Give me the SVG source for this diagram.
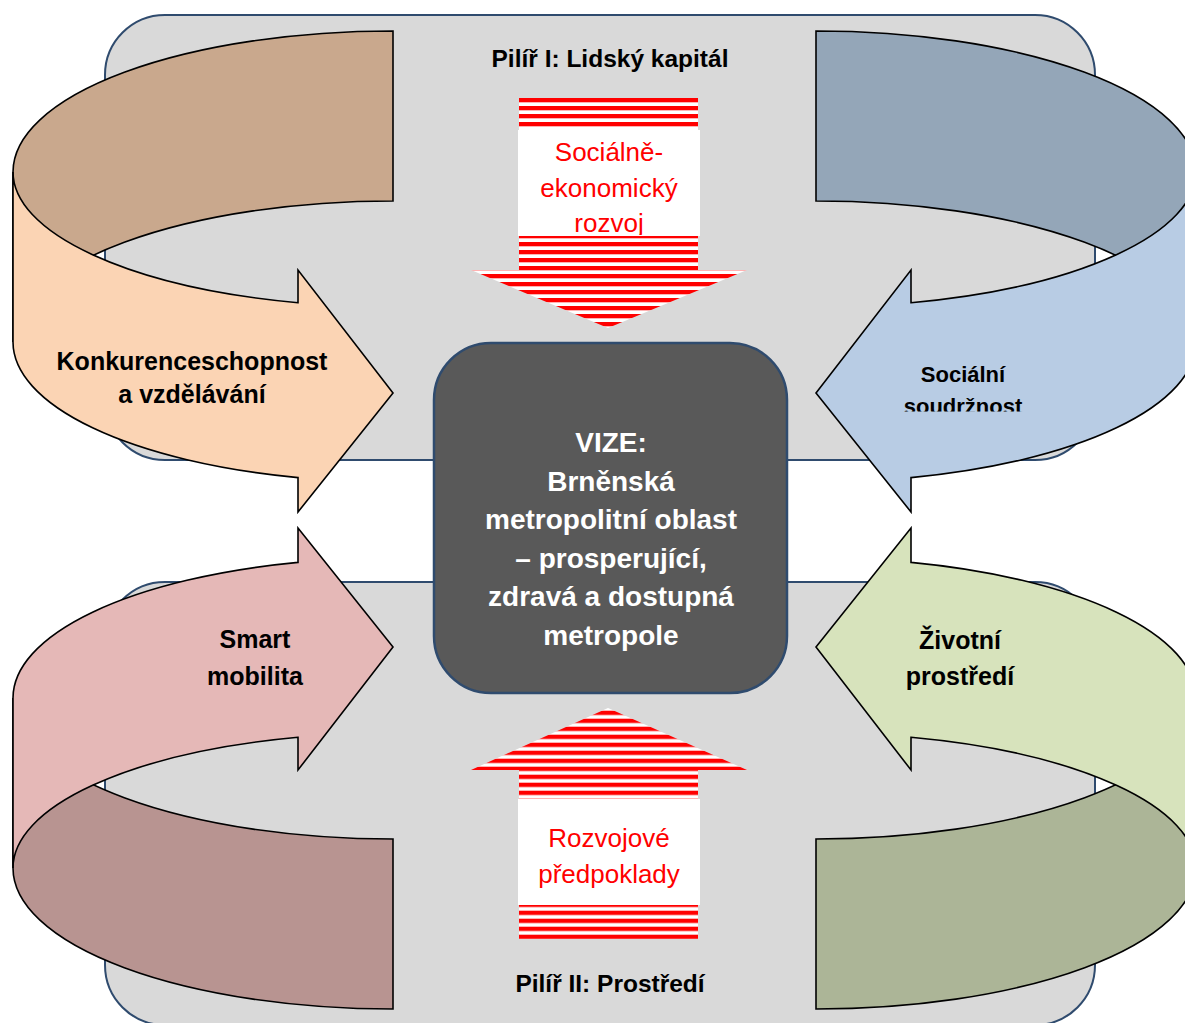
<svg xmlns="http://www.w3.org/2000/svg" width="1185" height="1023" viewBox="0 0 1185 1023">
<style>
.pillar{fill:#d9d9d9;stroke:#2f4b6e;stroke-width:2}
.vision{fill:#595959;stroke:#2f4b6e;stroke-width:2.5}
.band{stroke:#000;stroke-width:1.6;stroke-linejoin:miter}
.lbl{font-family:"Liberation Sans",Arial,sans-serif;font-weight:bold;fill:#000;text-anchor:middle}
.vis{font-family:"Liberation Sans",Arial,sans-serif;font-weight:bold;fill:#fff;text-anchor:middle;font-size:28px}
.red{font-family:"Liberation Sans",Arial,sans-serif;fill:#ff0000;text-anchor:middle;font-size:26px}
</style>
<defs>
<pattern id="stripesTop" patternUnits="userSpaceOnUse" x="0" y="98" width="20" height="8">
<rect x="0" y="0" width="20" height="8" fill="#fff"/>
<rect x="0" y="0" width="20" height="4.3" fill="#ff0000"/>
</pattern>
<pattern id="stripesBot" patternUnits="userSpaceOnUse" x="0" y="934.7" width="20" height="8">
<rect x="0" y="0" width="20" height="8" fill="#fff"/>
<rect x="0" y="0" width="20" height="4.3" fill="#ff0000"/>
</pattern>
<path id="backBand" d="M13,172 A380,141 0 0 1 393,31 L393,201 A380,141 0 0 0 13,342 Z"/>
<path id="frontBand" d="M13,172 A380,135 0 0 0 298,302.7 L298,270 L393,393 L298,512 L298,477.6 A380,140 0 0 1 13,342 Z"/>
<clipPath id="clipSoc"><rect x="870" y="340" width="190" height="71.5"/></clipPath>
<clipPath id="clipRozvoj"><rect x="518" y="130" width="182" height="105"/></clipPath>
</defs>
<rect width="1185" height="1023" fill="#fff"/>
<g id="pillar1"><rect class="pillar" x="105" y="15" width="990" height="445" rx="60" ry="60"/></g>
<g id="pillar2"><rect class="pillar" x="105" y="582" width="990" height="443" rx="60" ry="60"/></g>
<g id="arrow-konkurenceschopnost">
<use href="#backBand" class="band" fill="#c9a88d"/>
<use href="#frontBand" class="band" fill="#fbd4b4"/>
<text class="lbl" font-size="25" x="192" y="370">Konkurenceschopnost</text>
<text class="lbl" font-size="25" x="192" y="403">a vzdělávání</text>
</g>
<g id="arrow-socialni">
<g transform="matrix(-1,0,0,1,1209,0)">
<use href="#backBand" class="band" fill="#94a6b8"/>
<use href="#frontBand" class="band" fill="#b8cce4"/>
</g>
<g clip-path="url(#clipSoc)">
<text class="lbl" font-size="22" x="963" y="382">Sociální</text>
<text class="lbl" font-size="22" x="963" y="414">soudržnost</text>
</g>
</g>
<g id="arrow-mobilita">
<g transform="matrix(1,0,0,-1,0,1040)">
<use href="#backBand" class="band" fill="#b89491"/>
<use href="#frontBand" class="band" fill="#e5b8b7"/>
</g>
<text class="lbl" font-size="25" x="255" y="648">Smart</text>
<text class="lbl" font-size="25" x="255" y="685">mobilita</text>
</g>
<g id="arrow-prostredi">
<g transform="matrix(-1,0,0,-1,1209,1040)">
<use href="#backBand" class="band" fill="#acb597"/>
<use href="#frontBand" class="band" fill="#d7e3bc"/>
</g>
<text class="lbl" font-size="25" x="960" y="649">Životní</text>
<text class="lbl" font-size="25" x="960" y="685">prostředí</text>
</g>
<g id="titles">
<text class="lbl" font-size="24.5" x="610" y="67">Pilíř I: Lidský kapitál</text>
<text class="lbl" font-size="24.5" x="610" y="992">Pilíř II: Prostředí</text>
</g>
<g id="vision">
<rect class="vision" x="434" y="343" width="353" height="350" rx="57" ry="57"/>
<text class="vis" x="611" y="452">VIZE:</text>
<text class="vis" x="611" y="490.6">Brněnská</text>
<text class="vis" x="611" y="529.2">metropolitní oblast</text>
<text class="vis" x="611" y="567.8">– prosperující,</text>
<text class="vis" x="611" y="606.4">zdravá a dostupná</text>
<text class="vis" x="611" y="645">metropole</text>
</g>
<g id="connectors">
<g id="arrow-socioeconomic">
<path d="M519,98 L698,98 L698,270 L747,270 L608,328 L471,270 L519,270 Z" fill="url(#stripesTop)"/>
<rect x="518" y="130" width="182" height="106" fill="#fff"/>
<g clip-path="url(#clipRozvoj)">
<text class="red" x="609" y="161">Sociálně-</text>
<text class="red" x="609" y="196.5">ekonomický</text>
<text class="red" x="609" y="232">rozvoj</text>
</g>
</g>
<g id="arrow-preconditions">
<path d="M608,708 L747,770 L698,770 L698,939 L519,939 L519,770 L471,770 Z" fill="url(#stripesBot)"/>
<rect x="518" y="799" width="182" height="106" fill="#fff"/>
<text class="red" x="609" y="847">Rozvojové</text>
<text class="red" x="609" y="883">předpoklady</text>
</g>
</g>
</svg>
